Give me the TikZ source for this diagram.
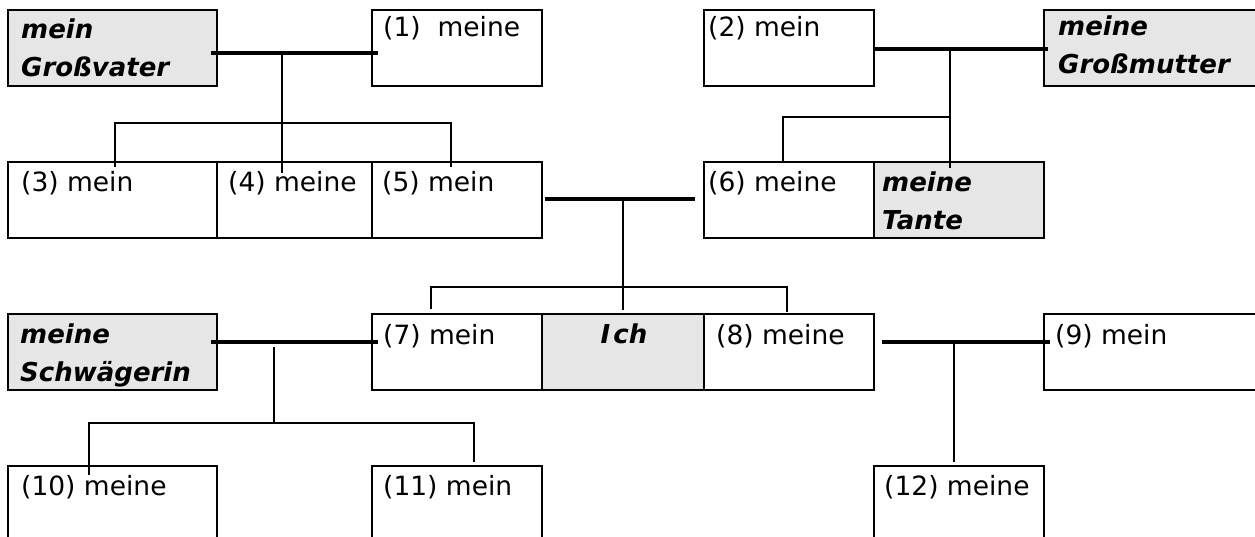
\documentclass[tikz,border=0pt]{standalone}
\usepackage{fontspec}
\setmainfont{DejaVu Sans}
\definecolor{boxgray}{RGB}{230,230,230}
\begin{document}
\begin{tikzpicture}[x=1pt,y=-1pt,
  box/.style={draw=black, line width=2pt, anchor=north west, inner sep=0pt, outer sep=0pt, minimum height=76pt},
  grayfill/.style={fill=boxgray},
  plain/.style={anchor=base west, inner sep=0pt, font=\fontsize{26.5}{32}\selectfont},
  emph/.style={anchor=base west, inner sep=0pt, font=\fontsize{26}{32}\selectfont\bfseries\itshape},
  couple/.style={line width=3.5pt},
  stem/.style={line width=2pt},
  branch/.style={line width=1.4pt}]
\useasboundingbox (0,0) rectangle (1255,537);
\clip (0,0) rectangle (1255,537);

% row 1
\node[box,grayfill,minimum width=209pt] (gv) at (8,10) {};
\node[box,minimum width=170pt] (b1) at (372,10) {};
\node[box,minimum width=170pt] (b2) at (704,10) {};
\node[box,grayfill,minimum width=230pt] (gm) at (1044,10) {};
% row 2
\node[box,minimum width=209pt] (b3) at (8,162) {};
\node[box,minimum width=155pt] (b4) at (217,162) {};
\node[box,minimum width=170pt] (b5) at (372,162) {};
\node[box,minimum width=170pt] (b6) at (704,162) {};
\node[box,grayfill,minimum width=170pt] (ta) at (874,162) {};
% row 3
\node[box,grayfill,minimum width=209pt] (sw) at (8,314) {};
\node[box,minimum width=170pt] (b7) at (372,314) {};
\node[box,grayfill,minimum width=162pt] (ich) at (542,314) {};
\node[box,minimum width=170pt] (b8) at (704,314) {};
\node[box,minimum width=230pt] (b9) at (1044,314) {};
% row 4
\node[box,minimum width=209pt,minimum height=100pt] (b10) at (8,466) {};
\node[box,minimum width=170pt,minimum height=100pt] (b11) at (372,466) {};
\node[box,minimum width=170pt,minimum height=100pt] (b12) at (874,466) {};

% texts
\node[emph] (gvA) at (21,39) {mein};
\node[emph] (gvB) at (21,77) {Großvater};
\node[plain] (t1) at (383,37) {(1)\ \ meine};
\node[plain] (t2) at (708,37) {(2) mein};
\node[emph] (gmA) at (1058,36) {meine};
\node[emph] (gmB) at (1058,74) {Großmutter};
\node[plain] (t3) at (21,192) {(3) mein};
\node[plain] (t4) at (228,192) {(4) meine};
\node[plain] (t5) at (382,192) {(5) mein};
\node[plain] (t6) at (708,192) {(6) meine};
\node[emph] (taA) at (882,192) {meine};
\node[emph] (taB) at (882,230) {Tante};
\node[emph] (swA) at (20,343) {meine};
\node[emph] (swB) at (20,381) {Schwägerin};
\node[plain] (t7) at (383,344) {(7) mein};
\node[emph,anchor=base] (tich) at (624,343) {I\kern3pt ch};
\node[plain] (t8) at (716,344) {(8) meine};
\node[plain] (t9) at (1055,344) {(9) mein};
\node[plain] (t10) at (21,495) {(10) meine};
\node[plain] (t11) at (383,495) {(11) mein};
\node[plain] (t12) at (884,495) {(12) meine};

% family 1: Großvater + (1)
\coordinate (m1l) at (211,53); \coordinate (m1r) at (378,53);
\coordinate (m1c) at (282,53); \coordinate (m1s) at (282,123);
\coordinate (m1e) at (282,173);
\coordinate (k3t) at (115,123); \coordinate (k3b) at (115,167);
\coordinate (k5t) at (451,123); \coordinate (k5b) at (451,167);
\draw[couple] (m1l) -- (m1r);
\draw[stem] (m1c) -- (m1e);
\draw[branch] (k3b) -- (k3t) -- (k5t) -- (k5b);

% family 2: (2) + Großmutter
\coordinate (m2l) at (874,49); \coordinate (m2r) at (1048,49);
\coordinate (m2c) at (950,49); \coordinate (m2s) at (950,117);
\coordinate (m2e) at (950,168);
\coordinate (k6t) at (783,117); \coordinate (k6b) at (783,163);
\draw[couple] (m2l) -- (m2r);
\draw[branch] (m2c) -- (m2e);
\draw[branch] (k6b) -- (k6t) -- (m2s);

% family 3: (5) + (6)
\coordinate (m3l) at (545,199); \coordinate (m3r) at (695,199);
\coordinate (m3c) at (623,199); \coordinate (m3e) at (623,310);
\coordinate (k7t) at (431,287); \coordinate (k7b) at (431,309);
\coordinate (k8t) at (787,287); \coordinate (k8b) at (787,312);
\draw[couple] (m3l) -- (m3r);
\draw[branch] (m3c) -- (m3e);
\draw[branch] (k7b) -- (k7t) -- (k8t) -- (k8b);

% family 4: Schwägerin + (7)
\coordinate (m4l) at (211,342); \coordinate (m4r) at (378,342);
\coordinate (m4c) at (274,347); \coordinate (m4s) at (274,423);
\coordinate (k10t) at (89,423); \coordinate (k10b) at (89,475);
\coordinate (k11t) at (474,423); \coordinate (k11b) at (474,462);
\draw[couple] (m4l) -- (m4r);
\draw[stem] (m4c) -- (m4s);
\draw[branch] (k10b) -- (k10t) -- (k11t) -- (k11b);

% family 5: (8) + (9)
\coordinate (m5l) at (882,342); \coordinate (m5r) at (1050,342);
\coordinate (m5c) at (954,342); \coordinate (m5e) at (954,462);
\draw[couple] (m5l) -- (m5r);
\draw[branch] (m5c) -- (m5e);
\end{tikzpicture}
\end{document}
